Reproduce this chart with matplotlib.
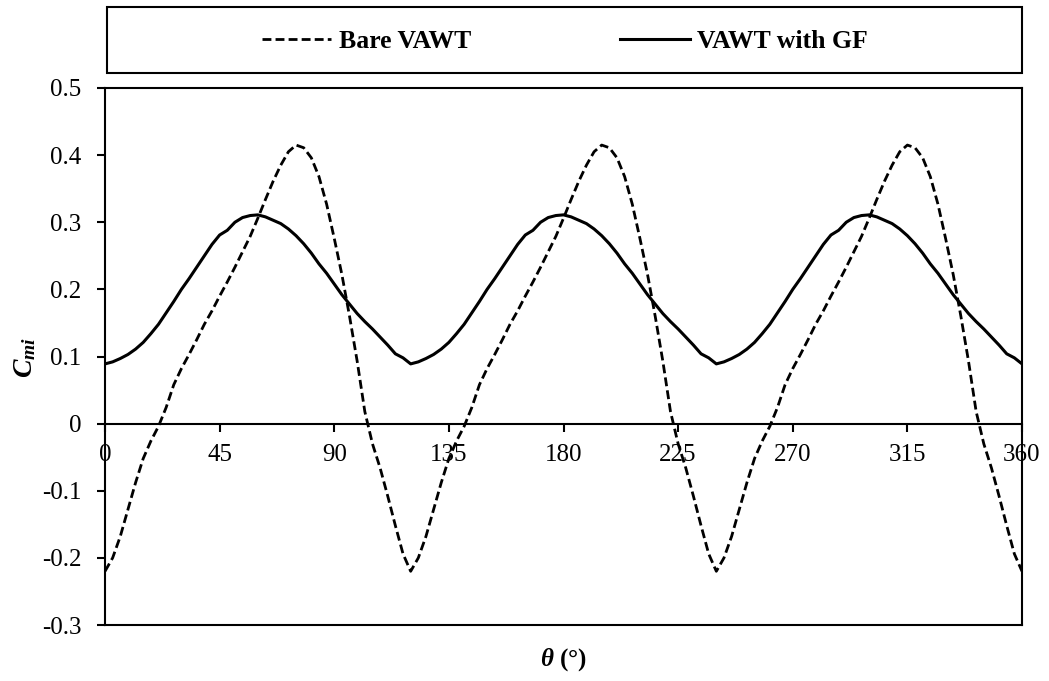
import matplotlib
matplotlib.use("Agg")
import matplotlib.pyplot as plt
from matplotlib.patches import Rectangle
from matplotlib.lines import Line2D

plt.rcParams['font.family'] = ['Liberation Serif', 'DejaVu Serif']
plt.rcParams['mathtext.fontset'] = 'custom'
plt.rcParams['mathtext.rm'] = 'Liberation Serif'
plt.rcParams['mathtext.it'] = 'Liberation Serif:italic'
plt.rcParams['mathtext.bf'] = 'Liberation Serif:bold'
plt.rcParams['mathtext.bfit'] = 'Liberation Serif:bold:italic'

# Azimuth angle (deg), 3 deg steps over one full revolution
theta = list(range(0, 361, 3))

# Instantaneous moment coefficient, bare rotor
bare_vawt = [
    -0.220, -0.200, -0.168, -0.128, -0.088, -0.052, -0.026, -0.004, 0.024, 0.058,
    0.082, 0.103, 0.125, 0.148, 0.168, 0.190, 0.211, 0.233, 0.256, 0.279,
    0.306, 0.334, 0.361, 0.385, 0.405, 0.415, 0.411, 0.396, 0.368, 0.327,
    0.276, 0.222, 0.160, 0.093, 0.018, -0.030, -0.066, -0.108, -0.152, -0.194,
    -0.220, -0.200, -0.168, -0.128, -0.088, -0.052, -0.026, -0.004, 0.024, 0.058,
    0.082, 0.103, 0.125, 0.148, 0.168, 0.190, 0.211, 0.233, 0.256, 0.279,
    0.306, 0.334, 0.361, 0.385, 0.405, 0.415, 0.411, 0.396, 0.368, 0.327,
    0.276, 0.222, 0.160, 0.093, 0.018, -0.030, -0.066, -0.108, -0.152, -0.194,
    -0.220, -0.200, -0.168, -0.128, -0.088, -0.052, -0.026, -0.004, 0.024, 0.058,
    0.082, 0.103, 0.125, 0.148, 0.168, 0.190, 0.211, 0.233, 0.256, 0.279,
    0.306, 0.334, 0.361, 0.385, 0.405, 0.415, 0.411, 0.396, 0.368, 0.327,
    0.276, 0.222, 0.160, 0.093, 0.018, -0.030, -0.066, -0.108, -0.152, -0.194,
    -0.220,
]

# Instantaneous moment coefficient, rotor with guide-vane frame
vawt_gf = [
    0.089, 0.092, 0.097, 0.103, 0.111, 0.121, 0.134, 0.148, 0.165, 0.182,
    0.200, 0.216, 0.233, 0.250, 0.267, 0.281, 0.288, 0.300, 0.307, 0.310,
    0.311, 0.308, 0.303, 0.298, 0.290, 0.280, 0.268, 0.254, 0.238, 0.224,
    0.208, 0.192, 0.178, 0.164, 0.152, 0.141, 0.129, 0.117, 0.104, 0.098,
    0.089, 0.092, 0.097, 0.103, 0.111, 0.121, 0.134, 0.148, 0.165, 0.182,
    0.200, 0.216, 0.233, 0.250, 0.267, 0.281, 0.288, 0.300, 0.307, 0.310,
    0.311, 0.308, 0.303, 0.298, 0.290, 0.280, 0.268, 0.254, 0.238, 0.224,
    0.208, 0.192, 0.178, 0.164, 0.152, 0.141, 0.129, 0.117, 0.104, 0.098,
    0.089, 0.092, 0.097, 0.103, 0.111, 0.121, 0.134, 0.148, 0.165, 0.182,
    0.200, 0.216, 0.233, 0.250, 0.267, 0.281, 0.288, 0.300, 0.307, 0.310,
    0.311, 0.308, 0.303, 0.298, 0.290, 0.280, 0.268, 0.254, 0.238, 0.224,
    0.208, 0.192, 0.178, 0.164, 0.152, 0.141, 0.129, 0.117, 0.104, 0.098,
    0.089,
]

x_ticks = [0, 45, 90, 135, 180, 225, 270, 315, 360]
y_ticks = [-0.3, -0.2, -0.1, 0, 0.1, 0.2, 0.3, 0.4, 0.5]
y_tick_labels = ['-0.3', '-0.2', '-0.1', '0', '0.1', '0.2', '0.3', '0.4', '0.5']
series_names = ['Bare VAWT', 'VAWT with GF']

W, H = 1049, 681
fig = plt.figure(figsize=(W / 100, H / 100), dpi=100)
ax = fig.add_axes([105 / W, 1 - 625 / H, (1022 - 105) / W, (625 - 88) / H])

dash = (0, (3.2, 1.5))
ax.plot(theta, bare_vawt, color='black', lw=2.0, linestyle=dash, zorder=3)
ax.plot(theta, vawt_gf, color='black', lw=2.2, zorder=3)

ax.set_xlim(0, 360)
ax.set_ylim(-0.3, 0.5)

# x axis runs along zero; the plot area keeps its own border
ax.spines['bottom'].set_position(('data', 0))
for s in ax.spines.values():
    s.set_linewidth(1.5)
    s.set_color('black')
ax.plot([0, 1], [0, 0], transform=ax.transAxes, color='black', lw=1.5,
        clip_on=False, zorder=4)

ax.set_xticks(x_ticks)
ax.set_xticklabels([str(v) for v in x_ticks])
ax.set_yticks(y_ticks)
ax.set_yticklabels(y_tick_labels)
ax.tick_params(axis='x', direction='out', length=6, width=1.5, pad=9,
               labelsize=18)
ax.tick_params(axis='y', direction='out', length=6, width=1.5, pad=11,
               labelsize=18)

# axis titles
fig.text(25 / W, 1 - 357 / H, r'$\mathbfit{C}_{\mathbfit{mi}}$', fontsize=20,
         rotation=90, ha='center', va='center')
fig.text(563 / W, 1 - 660 / H, r'$\mathbfit{\theta}$ (°)', fontsize=18,
         fontweight='bold', ha='center', va='center')

# legend box across the top
fig.patches.append(Rectangle((107 / W, 1 - 73 / H), (1022 - 107) / W, 66 / H,
                             transform=fig.transFigure, facecolor='white',
                             edgecolor='black', lw=1.5))
handles = [Line2D([], [], color='black', lw=2.0, linestyle=dash),
           Line2D([], [], color='black', lw=2.2)]
fig.legend(handles, series_names, loc='center',
           bbox_to_anchor=(565 / W, 1 - 41 / H), ncol=2, frameon=False,
           prop={'family': 'Liberation Serif', 'weight': 'bold', 'size': 18.5},
           handlelength=2.7, handletextpad=0.3, columnspacing=5.8)

fig.savefig('out.png', dpi=100)
